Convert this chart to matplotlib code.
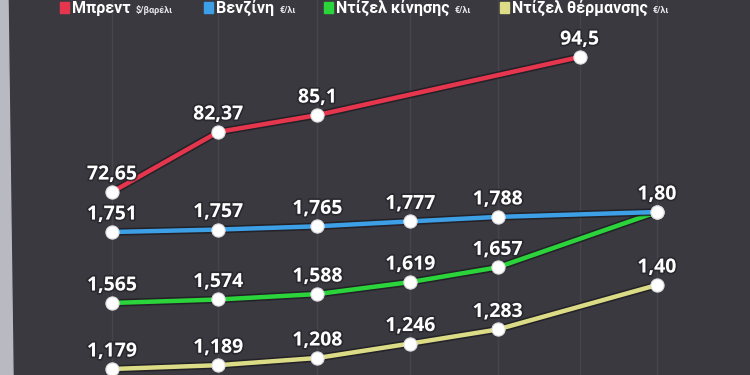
import numpy as np
import matplotlib
matplotlib.use("Agg")
import matplotlib.pyplot as plt
import matplotlib.patheffects as pe
from matplotlib.patches import Rectangle, Polygon

# ---------------- data ----------------
slots = [0, 1, 2, 3, 4, 5, 6]

brent_x = [0, 1, 2, 5]
brent = [72.65, 82.37, 85.1, 94.5]
brent_labels = ["72,65", "82,37", "85,1", "94,5"]

fuel_x = [0, 1, 2, 3, 4, 6]
gasoline = [1.751, 1.757, 1.765, 1.777, 1.788, 1.80]
gasoline_labels = ["1,751", "1,757", "1,765", "1,777", "1,788", "1,80"]
diesel = [1.565, 1.574, 1.588, 1.619, 1.657, 1.80]
diesel_labels = ["1,565", "1,574", "1,588", "1,619", "1,657", ""]
heating = [1.179, 1.189, 1.208, 1.246, 1.283, 1.40]
heating_labels = ["1,179", "1,189", "1,208", "1,246", "1,283", "1,40"]

legend_names = ["Μπρεντ", "Βενζίνη", "Ντίζελ κίνησης", "Ντίζελ θέρμανσης"]
legend_units = ["$/βαρέλι", "€/λι", "€/λι", "€/λι"]

# ---------------- style ----------------
BG = "#3a3940"
RED, BLUE, GREEN, YELLOW = "#e6364e", "#3d9fe6", "#2bd43a", "#dcdc86"
FONT = "Open Sans"
LEG_FONT = "Roboto"

W, H = 750, 375
fig = plt.figure(figsize=(7.5, 3.75), dpi=100, facecolor=BG)

# perspective-like horizontal scale (screen photographed at an angle)
B = 0.035
fwd = lambda t: np.asarray(t, float) / (1 + B * np.asarray(t, float))
inv = lambda u: np.asarray(u, float) / (1 - B * np.asarray(u, float))

ax0 = fig.add_axes([0, 0, 1, 1])
ax0.set_facecolor(BG)
ax0.set_xscale("function", functions=(fwd, inv))
ax0.set_xlim(-0.984, 7.286)
ax0.set_ylim(0, 1)
for s in slots:
    ax0.axvline(s, color="#46454d", lw=1.0, zorder=0)
for sp in ax0.spines.values():
    sp.set_visible(False)
ax0.set_xticks([]); ax0.set_yticks([])

# left light strip of the screen frame
fig.patches.append(Polygon([(0, 1), (8 / W, 1), (13 / W, 0), (0, 0)], closed=True,
                           transform=fig.transFigure, color="#b9b9c1", zorder=5))

line_fx = [pe.Stroke(linewidth=5.5, foreground="#1e1d22", alpha=0.8), pe.Normal()]
text_fx = [pe.withStroke(linewidth=2.5, foreground="#25242a", alpha=0.8)]


def series(xs, ys, labels, color, ylim, z):
    ax = fig.add_axes([0, 0, 1, 1], sharex=ax0)
    ax.set_ylim(*ylim)
    ax.axis("off")
    ax.patch.set_visible(False)
    ax.set_zorder(z)
    ax.plot(xs, ys, color=color, lw=3.2, solid_capstyle="round",
            path_effects=line_fx, zorder=2)
    ax.plot(xs, ys, ls="none", marker="o", ms=9.5, mfc="white",
            mec="#dddde0", mew=0.8, zorder=3, clip_on=False)
    for x, y, lab in zip(xs, ys, labels):
        if lab:
            ax.annotate(lab, (x, y), xytext=(0, 9), textcoords="offset points",
                        ha="center", va="baseline", color="white",
                        fontsize=14, fontweight="bold", family=FONT,
                        path_effects=text_fx, zorder=5, annotation_clip=False)
    return ax


series(fuel_x, heating, heating_labels, YELLOW, (1.1632, 2.1498), 1)
series(fuel_x, diesel, diesel_labels, GREEN, (1.379, 2.3475), 2)
series(fuel_x, gasoline, gasoline_labels, BLUE, (1.4007, 2.3194), 3)
series(brent_x, brent, brent_labels, RED, (43.03, 103.73), 4)

# ---------------- legend (top) ----------------
renderer = fig.canvas.get_renderer()
square_x = [60, 204, 324, 500]
colors = [RED, BLUE, GREEN, YELLOW]
base_y = 1 - 13 / H
for sx, name, unit, c in zip(square_x, legend_names, legend_units, colors):
    fig.patches.append(Rectangle((sx / W, 1 - 13 / H), 9 / W, 11 / H,
                                 transform=fig.transFigure, color=c, zorder=6))
    t = fig.text((sx + 12) / W, base_y, name, color="white", fontsize=11.5,
                 fontweight="bold", family=LEG_FONT, va="baseline", ha="left")
    ext = t.get_window_extent(renderer)
    fig.text((ext.x1 + 5) / W, base_y, unit, color="#e8e8ec", fontsize=6.5,
             fontweight="bold", family=LEG_FONT, va="baseline", ha="left")

fig.savefig("out.png", dpi=100, facecolor=BG)
